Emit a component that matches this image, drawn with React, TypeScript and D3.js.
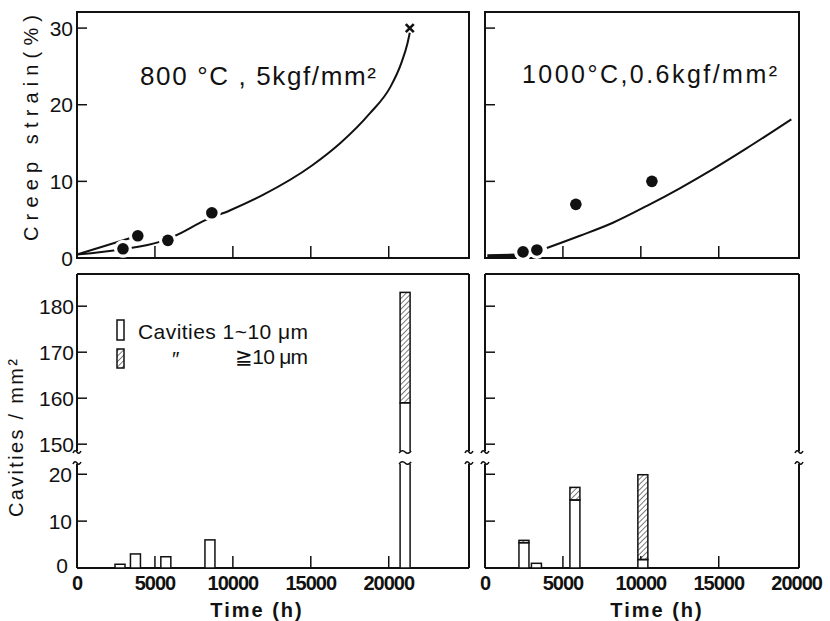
import React, { useEffect, useRef } from "react";
import * as d3 from "d3";

// ---- data ----
const X_TICK_LABELS = [0, 5000, 10000, 15000, 20000];
const STRAIN_TICKS = [0, 10, 20, 30];
const CAV_TICKS_LOW = [0, 10, 20];
const CAV_TICKS_HIGH = [150, 160, 170, 180];

// 800 °C, 5 kgf/mm2 : creep curve (time h, strain %)
const curve800: [number, number][] = [
  [0, 0.45], [2900, 1.15], [5300, 2.1], [6300, 2.9], [8200, 4.9], [9800, 6.2],
  [11900, 8.2], [15100, 12.1], [16900, 15.0], [18800, 18.9], [20100, 22.3],
  [20800, 25.4], [21200, 28.0], [21350, 29.4],
];
const branch800: [number, number][] = [[0, 0.45], [3900, 2.9]];
const points800: [number, number][] = [[2950, 1.2], [3900, 2.9], [5830, 2.3], [8650, 5.9]];
const rupture800: [number, number] = [21350, 30];

// 1000 °C, 0.6 kgf/mm2
const curve1000: [number, number][] = [
  [3970, 1.3], [6090, 2.9], [8210, 4.6], [10390, 6.8], [12500, 9.1],
  [14630, 11.6], [16780, 14.3], [19660, 18.1],
];
const start1000: [number, number][] = [[150, 0.25], [1950, 0.35]];
const points1000: [number, number][] = [[2440, 0.8], [3330, 1.05], [5830, 7.0], [10710, 10.0]];

// cavity counts per mm2
const barTime800 = [2760, 3750, 5700, 8530, 21050];
const cavSmall800 = [0.8, 3.0, 2.4, 6.0, 159];
const cavLarge800 = [0, 0, 0, 0, 24];

const barTime1000 = [2500, 3300, 5770, 10130];
const cavSmall1000 = [5.4, 1.0, 14.5, 1.8];
const cavLarge1000 = [0.5, 0, 2.7, 18.1];

const FONT = "'Liberation Sans', Arial, sans-serif";
const INK = "#111";

export default function App() {
  const ref = useRef<SVGSVGElement>(null);

  useEffect(() => {
    if (!ref.current) return;
    const svg = d3.select(ref.current);
    svg.selectAll("*").remove();

    const defs = svg.append("defs");
    defs
      .append("pattern")
      .attr("id", "hatch")
      .attr("patternUnits", "userSpaceOnUse")
      .attr("width", 3.8)
      .attr("height", 3.8)
      .attr("patternTransform", "rotate(45)")
      .append("line")
      .attr("x1", 0).attr("y1", 0).attr("x2", 0).attr("y2", 3.8)
      .attr("stroke", INK)
      .attr("stroke-width", 1.1);

    const g = svg.append("g").attr("font-family", FONT).attr("fill", INK);

    // scales
    const xL = d3.scaleLinear().domain([0, 25150]).range([77, 469]);
    const xR = d3.scaleLinear().domain([0, 20150]).range([485, 799]);
    const yStrain = d3.scaleLinear().domain([0, 32.1]).range([258, 12]);
    const lowMax = 22.4;
    const highMin = 148.3;
    const yLow = d3.scaleLinear().domain([0, lowMax]).range([568, 463]);
    const yHigh = d3.scaleLinear().domain([highMin, 187]).range([452, 274]);
    const breakTop = 451;
    const breakBot = 464;

    const squiggle = (cx: number, cy: number, half = 5) =>
      `M${cx - half},${cy + 1} q${half / 2},-4 ${half},-1 t${half},-1`;

    // ---------- top panels ----------
    const topPanel = (x: d3.ScaleLinear<number, number>, xt: number[]) => {
      const [a, b] = x.range();
      g.append("rect")
        .attr("x", a).attr("y", yStrain.range()[1])
        .attr("width", b - a).attr("height", yStrain.range()[0] - yStrain.range()[1])
        .attr("fill", "none").attr("stroke", INK).attr("stroke-width", 2);
      STRAIN_TICKS.filter((d) => d > 0).forEach((d) => {
        g.append("line")
          .attr("x1", a).attr("x2", a + 10)
          .attr("y1", yStrain(d)).attr("y2", yStrain(d))
          .attr("stroke", INK).attr("stroke-width", 1.5);
      });
      xt.forEach((d) => {
        g.append("line")
          .attr("x1", x(d)).attr("x2", x(d))
          .attr("y1", yStrain(0)).attr("y2", yStrain(0) - 12)
          .attr("stroke", INK).attr("stroke-width", 1.5);
      });
    };
    topPanel(xL, [5000, 10000, 15000, 20000]);
    topPanel(xR, [5000, 10000, 15000]);

    STRAIN_TICKS.forEach((d) => {
      g.append("text")
        .attr("x", 73).attr("y", yStrain(d)).attr("dy", "0.36em")
        .attr("text-anchor", "end")
        .style("font-size", "21px")
        .text(d);
    });

    g.append("text")
      .attr("transform", "translate(38,128) rotate(-90)")
      .attr("text-anchor", "middle")
      .attr("textLength", 226)
      .attr("lengthAdjust", "spacing")
      .style("font-size", "20px")
      .text("Creep strain(%)");

    const lineL = d3.line<[number, number]>()
      .x((d) => xL(d[0])).y((d) => yStrain(d[1]))
      .curve(d3.curveMonotoneX);
    const lineR = d3.line<[number, number]>()
      .x((d) => xR(d[0])).y((d) => yStrain(d[1]))
      .curve(d3.curveMonotoneX);

    [curve800, branch800].forEach((c) => {
      g.append("path").attr("d", lineL(c)).attr("fill", "none")
        .attr("stroke", INK).attr("stroke-width", 2);
    });
    g.append("path").attr("d", lineR(curve1000)).attr("fill", "none")
      .attr("stroke", INK).attr("stroke-width", 2);
    g.append("path").attr("d", lineR(start1000)).attr("fill", "none")
      .attr("stroke", INK).attr("stroke-width", 3.5);

    const dots = (pts: [number, number][], x: d3.ScaleLinear<number, number>) => {
      pts.forEach(([t, s]) => {
        g.append("circle").attr("cx", x(t)).attr("cy", yStrain(s)).attr("r", 9).attr("fill", "#fff");
      });
      pts.forEach(([t, s]) => {
        g.append("circle").attr("cx", x(t)).attr("cy", yStrain(s)).attr("r", 5.8).attr("fill", INK);
      });
    };
    dots(points800, xL);
    dots(points1000, xR);

    const rx = xL(rupture800[0]);
    const ry = yStrain(rupture800[1]);
    g.append("path")
      .attr("d", `M${rx - 4},${ry - 4}L${rx + 4},${ry + 4}M${rx + 4},${ry - 4}L${rx - 4},${ry + 4}`)
      .attr("stroke", INK).attr("stroke-width", 2.6);

    g.append("text")
      .attr("x", 140).attr("y", 85)
      .attr("textLength", 236).attr("lengthAdjust", "spacing")
      .style("font-size", "26px")
      .text("800 °C , 5kgf/mm²");
    g.append("text")
      .attr("x", 522).attr("y", 83)
      .attr("textLength", 255).attr("lengthAdjust", "spacing")
      .style("font-size", "25px")
      .text("1000°C,0.6kgf/mm²");

    // ---------- bottom panels ----------
    const botPanel = (x: d3.ScaleLinear<number, number>, xt: number[]) => {
      const [a, b] = x.range();
      const top = yHigh.range()[1];
      const bot = yLow.range()[0];
      g.append("line").attr("x1", a).attr("x2", b).attr("y1", top).attr("y2", top)
        .attr("stroke", INK).attr("stroke-width", 2);
      g.append("line").attr("x1", a).attr("x2", b).attr("y1", bot).attr("y2", bot)
        .attr("stroke", INK).attr("stroke-width", 2.2);
      [a, b].forEach((xx) => {
        g.append("line").attr("x1", xx).attr("x2", xx).attr("y1", top).attr("y2", breakTop)
          .attr("stroke", INK).attr("stroke-width", 2);
        g.append("line").attr("x1", xx).attr("x2", xx).attr("y1", breakBot).attr("y2", bot)
          .attr("stroke", INK).attr("stroke-width", 2);
        [breakTop + 1, breakBot - 1].forEach((yy) => {
          g.append("path").attr("d", squiggle(xx, yy, 4)).attr("fill", "none")
            .attr("stroke", INK).attr("stroke-width", 1.6);
        });
      });
      CAV_TICKS_LOW.filter((d) => d > 0).forEach((d) => {
        g.append("line").attr("x1", a).attr("x2", a + 10)
          .attr("y1", yLow(d)).attr("y2", yLow(d))
          .attr("stroke", INK).attr("stroke-width", 1.5);
      });
      CAV_TICKS_HIGH.forEach((d) => {
        g.append("line").attr("x1", a).attr("x2", a + 10)
          .attr("y1", yHigh(d)).attr("y2", yHigh(d))
          .attr("stroke", INK).attr("stroke-width", 1.5);
      });
      xt.forEach((d) => {
        g.append("line").attr("x1", x(d)).attr("x2", x(d))
          .attr("y1", bot).attr("y2", bot - 12)
          .attr("stroke", INK).attr("stroke-width", 1.5);
      });
      X_TICK_LABELS.forEach((d) => {
        g.append("text")
          .attr("x", x(d)).attr("y", 590)
          .attr("text-anchor", "middle")
          .attr("font-weight", "bold")
          .attr("letter-spacing", "-1")
          .style("font-size", "20px")
          .text(d);
      });
    };
    botPanel(xL, [5000, 10000, 15000, 20000]);
    botPanel(xR, [5000, 10000, 15000]);

    CAV_TICKS_LOW.forEach((d) => {
      g.append("text")
        .attr("x", d === 0 ? 68 : 72).attr("y", yLow(d) + (d === 0 ? -3 : 0)).attr("dy", "0.36em")
        .attr("text-anchor", "end")
        .style("font-size", "21px")
        .text(d);
    });
    CAV_TICKS_HIGH.forEach((d) => {
      g.append("text")
        .attr("x", 74).attr("y", yHigh(d)).attr("dy", "0.36em")
        .attr("text-anchor", "end")
        .style("font-size", "21px")
        .text(d);
    });

    g.append("text")
      .attr("transform", "translate(23,438) rotate(-90)")
      .attr("text-anchor", "middle")
      .attr("textLength", 158)
      .attr("lengthAdjust", "spacing")
      .style("font-size", "20px")
      .text("Cavities / mm²");

    [257, 657].forEach((cx) => {
      g.append("text")
        .attr("x", cx).attr("y", 617)
        .attr("text-anchor", "middle")
        .attr("font-weight", "bold")
        .attr("letter-spacing", "2")
        .style("font-size", "20px")
        .text("Time (h)");
    });

    // bars
    const BAR_W = 10;
    const drawBars = (
      x: d3.ScaleLinear<number, number>,
      times: number[],
      small: number[],
      large: number[],
    ) => {
      times.forEach((t, i) => {
        const x0 = x(t) - BAR_W / 2;
        const pieces: [number, number, string][] = [[0, small[i], "#fff"]];
        if (large[i] > 0) pieces.push([small[i], small[i] + large[i], "url(#hatch)"]);
        let broken = false;
        pieces.forEach(([lo, hi, fill]) => {
          if (lo < lowMax) {
            const h1 = Math.min(hi, lowMax);
            g.append("rect")
              .attr("x", x0).attr("y", yLow(h1))
              .attr("width", BAR_W).attr("height", yLow(lo) - yLow(h1))
              .attr("fill", fill).attr("stroke", INK).attr("stroke-width", 1.5);
          }
          if (hi > highMin) {
            broken = true;
            const l1 = Math.max(lo, highMin);
            g.append("rect")
              .attr("x", x0).attr("y", yHigh(hi))
              .attr("width", BAR_W).attr("height", yHigh(l1) - yHigh(hi))
              .attr("fill", fill).attr("stroke", INK).attr("stroke-width", 1.5);
          }
        });
        if (broken) {
          g.append("rect")
            .attr("x", x0 - 2).attr("y", breakTop)
            .attr("width", BAR_W + 4).attr("height", breakBot - breakTop)
            .attr("fill", "#fff");
          [breakTop + 1, breakBot - 1].forEach((yy) => {
            g.append("path").attr("d", squiggle(x0 + BAR_W / 2, yy, BAR_W / 2 + 1)).attr("fill", "none")
              .attr("stroke", INK).attr("stroke-width", 1.6);
          });
        }
      });
    };
    drawBars(xL, barTime800, cavSmall800, cavLarge800);
    drawBars(xR, barTime1000, cavSmall1000, cavLarge1000);

    // legend
    g.append("rect").attr("x", 117).attr("y", 320).attr("width", 7).attr("height", 20)
      .attr("fill", "#fff").attr("stroke", INK).attr("stroke-width", 1.5);
    g.append("rect").attr("x", 117).attr("y", 349).attr("width", 7).attr("height", 19)
      .attr("fill", "url(#hatch)").attr("stroke", INK).attr("stroke-width", 1.5);
    g.append("text").attr("x", 138).attr("y", 339)
      .attr("textLength", 170).attr("lengthAdjust", "spacing")
      .style("font-size", "21px")
      .text("Cavities  1~10 μm");
    g.append("text").attr("x", 172).attr("y", 366)
      .style("font-size", "21px")
      .text("″");
    g.append("text").attr("x", 235).attr("y", 364)
      .attr("textLength", 73).attr("lengthAdjust", "spacing")
      .style("font-size", "21px")
      .text("≧10 μm");
  }, []);

  return (
    <svg
      ref={ref}
      width={830}
      height={621}
      style={{ position: "absolute", left: 0, top: 0, background: "#fff" }}
    />
  );
}
